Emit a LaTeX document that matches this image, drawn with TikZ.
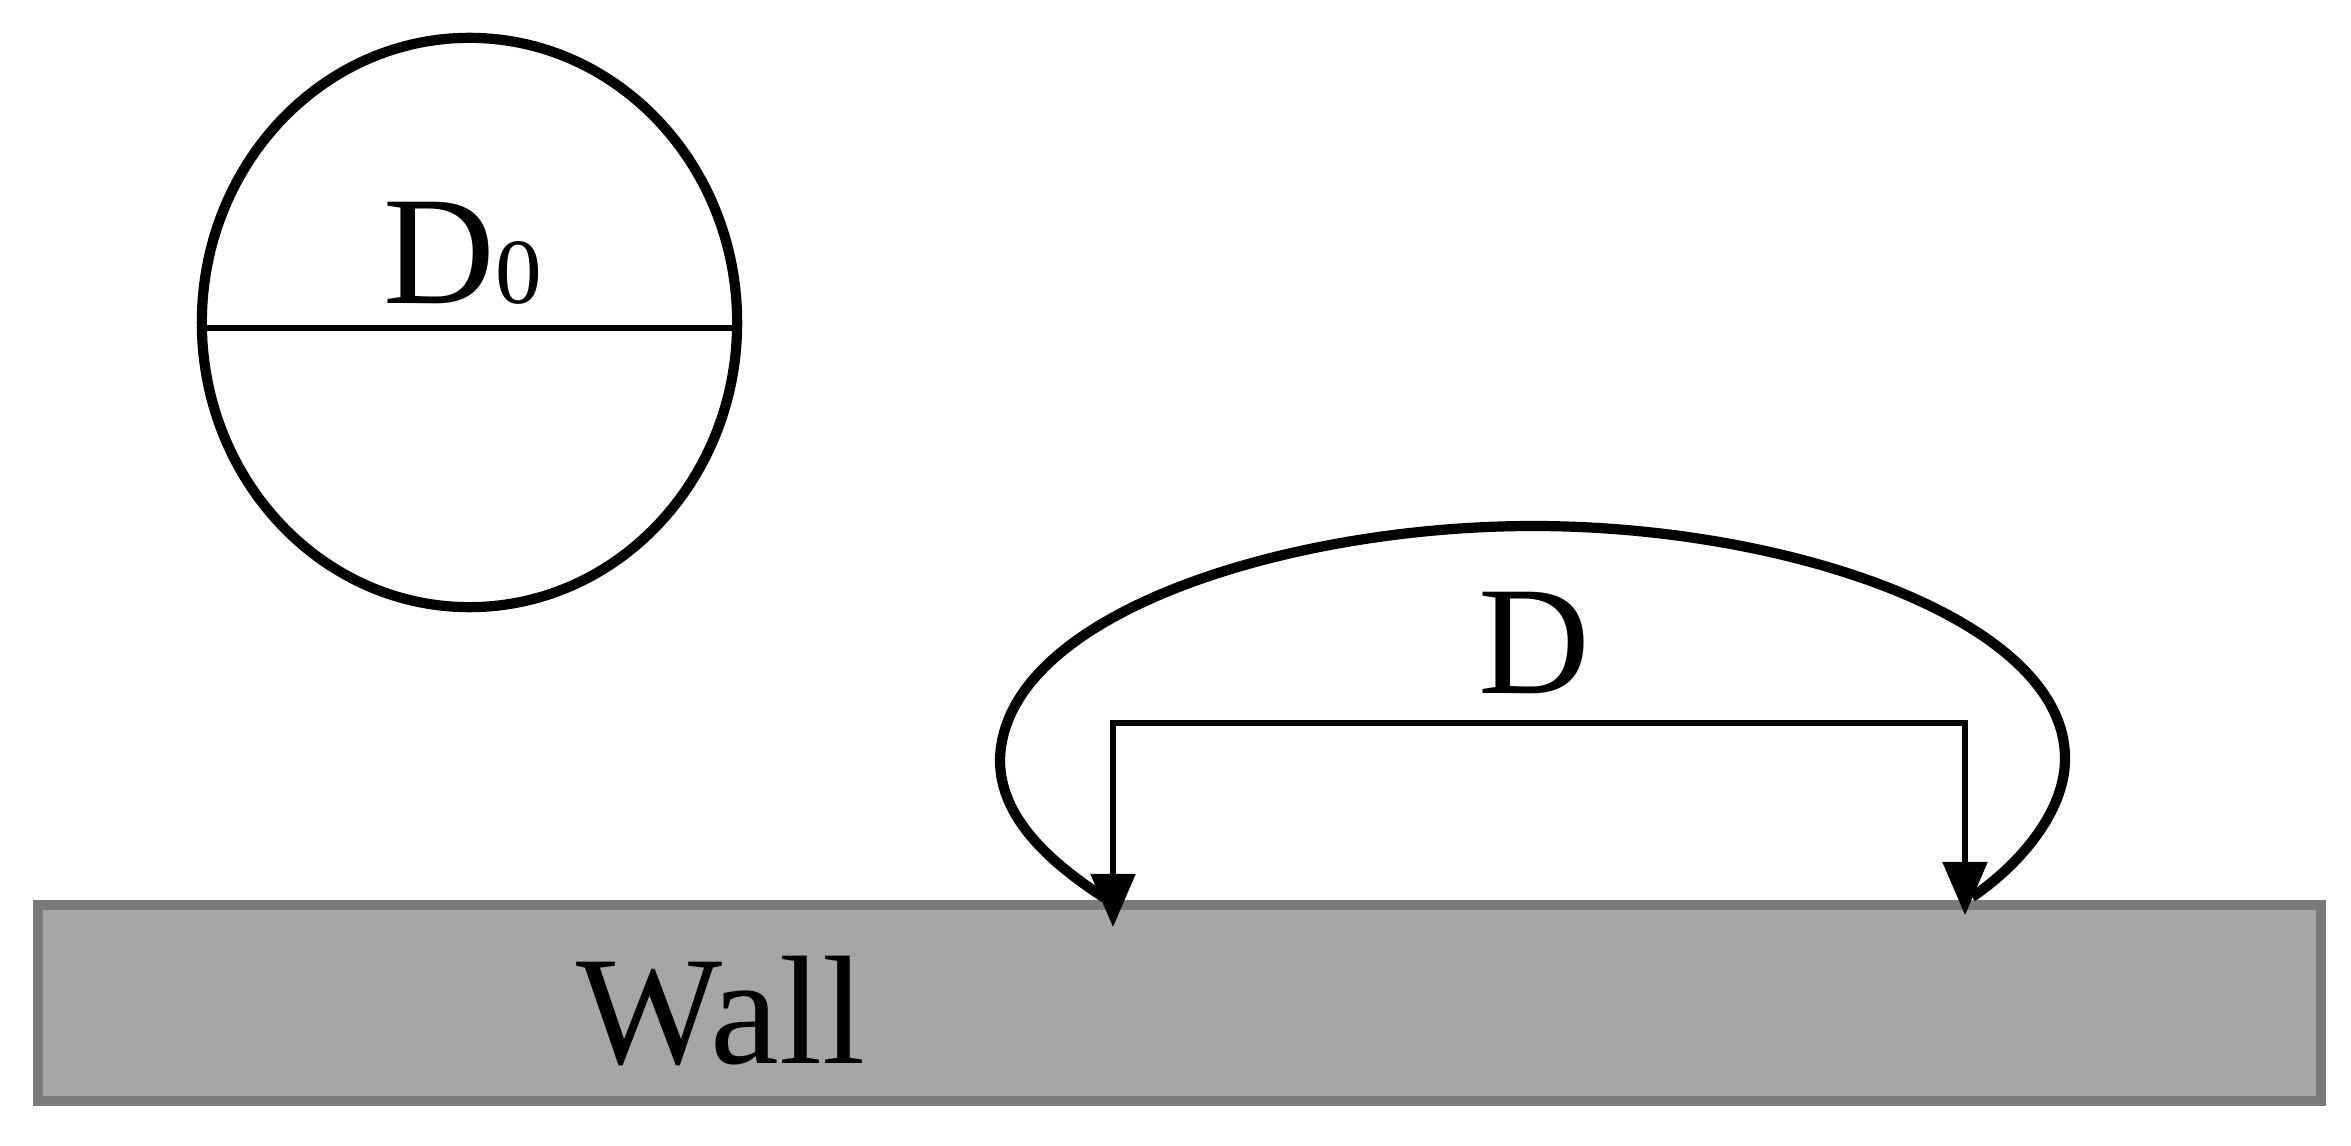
\documentclass[tikz,border=0pt]{standalone}
\usepackage{fontspec}
\setmainfont{Liberation Serif}
\usetikzlibrary{arrows.meta}
\definecolor{wallfill}{HTML}{A6A6A6}
\definecolor{wallborder}{HTML}{7A7A7A}
\tikzset{
  outline/.style={draw=black, line width=2.9pt},
  thinline/.style={draw=black, line width=1.5pt},
  dimarrow/.style={thinline, -{Triangle[length=5.3mm, width=4.4mm]}},
  bigtext/.style={font=\fontsize{44}{50}\selectfont, inner sep=0pt, anchor=base},
  wallbox/.style={fill=wallfill, draw=wallborder, line width=2.85pt}
}
\begin{document}
\begin{tikzpicture}[x=0.01cm, y=-0.01cm]
\useasboundingbox (0,0) rectangle (2351,1146);
% wall
\draw[wallbox] (38,905) rectangle (2321,1101);
\node[bigtext] (wall) at (721,1063) {Wall};
% initial droplet
\draw[outline] (469.5,322.5) ellipse [x radius=2.675cm, y radius=2.845cm];
\coordinate (dl) at (202,328);
\coordinate (dr) at (737,328);
\draw[line width=1.7pt] (dl) -- (dr);
\node[bigtext] (d0) at (463,304) {D{\fontsize{26.5}{30}\selectfont 0}};
% spread droplet
\draw[outline] (1108,900) .. controls (1045,860) and (1000,815) .. (1000,760)
  .. controls (1003,615) and (1285,526) .. (1533,526)
  .. controls (1790,526) and (2063,620) .. (2065,757)
  .. controls (2066,812) and (2018,866) .. (1972,897);
% dimension bracket
\coordinate (bl) at (1113,723);
\coordinate (br) at (1965,723);
\coordinate (tl) at (1113,927);
\coordinate (tr) at (1965,915);
\draw[thinline, line cap=rect] (bl) -- (br);
\draw[dimarrow] (bl) -- (tl);
\draw[dimarrow] (br) -- (tr);
\node[bigtext] (dlabel) at (1534,693) {D};
\end{tikzpicture}
\end{document}
